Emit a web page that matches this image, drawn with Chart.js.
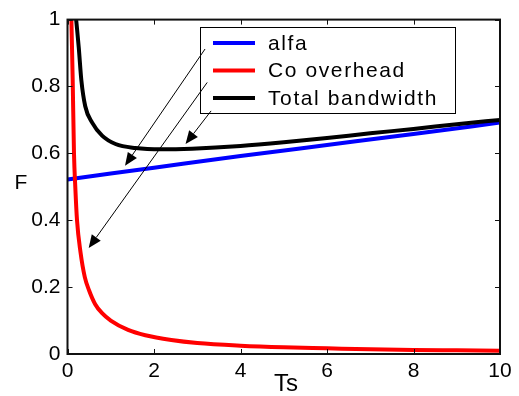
<!DOCTYPE html>
<html>
<head>
<meta charset="utf-8">
<script src="https://cdn.jsdelivr.net/npm/chart.js@4"></script>
<style>
  html, body { margin: 0; padding: 0; background: #fff; }
</style>
</head>
<body>
<canvas id="chart" width="519" height="396"></canvas>
<script>
// values
const xTicks = [0, 2, 4, 6, 8, 10];
const yTicks = [0, 0.2, 0.4, 0.6, 0.8, 1];
const seriesNames = ['alfa', 'Co overhead', 'Total bandwidth'];

const alfaTs = [0, 2, 4, 6, 8, 10];
const alfaF = [0.522, 0.557, 0.592, 0.625, 0.658, 0.692];

const coTs = [0.09, 0.12, 0.15, 0.18, 0.22, 0.3, 0.4, 0.5, 0.64, 0.8, 1.0, 1.4, 1.8, 2.4, 3, 4, 5, 6, 7, 8, 9, 10];
const coF = [1.0, 0.82, 0.6, 0.5, 0.4, 0.305, 0.23, 0.19, 0.149, 0.122, 0.1, 0.072, 0.056, 0.042, 0.033, 0.025, 0.02, 0.017, 0.014, 0.012, 0.011, 0.01];

const totalTs = [0.2, 0.26, 0.32, 0.41, 0.57, 0.8, 1.11, 1.57, 2.18, 2.88, 4, 5, 6, 7, 8, 9, 10];
const totalF = [1.0, 0.917, 0.819, 0.741, 0.692, 0.653, 0.628, 0.616, 0.612, 0.614, 0.622, 0.633, 0.646, 0.66, 0.673, 0.687, 0.7];

// arrows: [from Ts, from F, to Ts, to F]
const arrows = [
  [3.18, 0.912, 1.33, 0.563],
  [3.23, 0.812, 0.49, 0.317],
  [3.32, 0.727, 2.73, 0.628],
];

const pts = (xs, ys) => xs.map((x, i) => ({ x: x, y: ys[i] }));
const FONT = '"Liberation Sans", Arial, sans-serif';

const framePlugin = {
  id: 'frame',
  afterDatasetsDraw(chart) {
    const ctx = chart.ctx;
    const a = chart.chartArea;
    const sx = chart.scales.x;
    const sy = chart.scales.y;
    ctx.save();

    // box
    ctx.strokeStyle = '#111';
    ctx.lineWidth = 2;
    ctx.strokeRect(a.left, a.top, a.right - a.left, a.bottom - a.top);

    // inside ticks on all sides
    ctx.lineWidth = 1;
    ctx.beginPath();
    xTicks.forEach(v => {
      const p = Math.round(sx.getPixelForValue(v)) + 0.5;
      ctx.moveTo(p, a.bottom); ctx.lineTo(p, a.bottom - 5);
      ctx.moveTo(p, a.top); ctx.lineTo(p, a.top + 5);
    });
    yTicks.forEach(v => {
      const p = Math.round(sy.getPixelForValue(v)) + 0.5;
      ctx.moveTo(a.left, p); ctx.lineTo(a.left + 5, p);
      ctx.moveTo(a.right, p); ctx.lineTo(a.right - 5, p);
    });
    ctx.stroke();

    // legend box
    const lx = 200, ly = 27, lw = 255, lh = 86;
    ctx.fillStyle = '#fff';
    ctx.fillRect(lx, ly, lw, lh);
    ctx.strokeStyle = '#000';
    ctx.lineWidth = 1;
    ctx.strokeRect(lx + 0.5, ly + 0.5, lw, lh);
    ctx.font = '21px ' + FONT;
    ctx.letterSpacing = '1.6px';
    ctx.textBaseline = 'middle';
    ctx.textAlign = 'left';
    chart.data.datasets.forEach((ds, i) => {
      const y = 43 + i * 27.5;
      ctx.strokeStyle = ds.borderColor;
      ctx.lineWidth = 4;
      ctx.beginPath();
      ctx.moveTo(213, y); ctx.lineTo(255, y);
      ctx.stroke();
      ctx.fillStyle = '#000';
      ctx.fillText(ds.label, 268, y + 1);
    });
    ctx.letterSpacing = '0px';

    // arrows
    ctx.strokeStyle = '#000';
    ctx.fillStyle = '#000';
    ctx.lineWidth = 1;
    arrows.forEach(([x0, y0, x1, y1]) => {
      const px0 = sx.getPixelForValue(x0), py0 = sy.getPixelForValue(y0);
      const px1 = sx.getPixelForValue(x1), py1 = sy.getPixelForValue(y1);
      const ang = Math.atan2(py1 - py0, px1 - px0);
      const len = 13, half = 5.5;
      const bx = px1 - len * Math.cos(ang), by = py1 - len * Math.sin(ang);
      ctx.beginPath();
      ctx.moveTo(px0, py0); ctx.lineTo(bx, by);
      ctx.stroke();
      ctx.beginPath();
      ctx.moveTo(px1, py1);
      ctx.lineTo(bx + half * Math.sin(ang), by - half * Math.cos(ang));
      ctx.lineTo(bx - half * Math.sin(ang), by + half * Math.cos(ang));
      ctx.closePath();
      ctx.fill();
    });

    // axis labels
    ctx.fillStyle = '#000';
    ctx.textAlign = 'center';
    ctx.textBaseline = 'middle';
    ctx.font = '21px ' + FONT;
    ctx.fillText('F', 21, 183);
    ctx.font = '24px ' + FONT;
    ctx.fillText('Ts', 286, 384);
    ctx.restore();
  }
};

new Chart(document.getElementById('chart'), {
  type: 'scatter',
  data: {
    datasets: [
      { label: seriesNames[0], data: pts(alfaTs, alfaF), borderColor: '#0000ff', order: 3 },
      { label: seriesNames[1], data: pts(coTs, coF), borderColor: '#ff0000', order: 2 },
      { label: seriesNames[2], data: pts(totalTs, totalF), borderColor: '#000000', order: 1 },
    ].map(d => Object.assign(d, {
      showLine: true, borderWidth: 4, pointRadius: 0,
      cubicInterpolationMode: 'monotone',
      backgroundColor: d.borderColor, borderJoinStyle: 'round'
    }))
  },
  options: {
    responsive: false,
    animation: false,
    layout: { padding: { left: 0, right: 19, top: 13, bottom: 0 } },
    plugins: { legend: { display: false }, tooltip: { enabled: false } },
    scales: {
      x: {
        type: 'linear', min: 0, max: 10,
        afterBuildTicks: s => { s.ticks = xTicks.map(v => ({ value: v })); },
        afterFit: s => { s.height = 42; },
        grid: { display: false, drawTicks: false },
        border: { display: false },
        ticks: { color: '#000', padding: 5, font: { family: FONT, size: 21 },
                 callback: v => String(v) }
      },
      y: {
        type: 'linear', min: 0, max: 1,
        afterBuildTicks: s => { s.ticks = yTicks.map(v => ({ value: v })); },
        afterFit: s => { s.width = 67.5; },
        grid: { display: false, drawTicks: false },
        border: { display: false },
        ticks: { color: '#000', padding: 7, font: { family: FONT, size: 21 },
                 callback: v => String(v) }
      }
    }
  },
  plugins: [framePlugin]
});
</script>
</body>
</html>
